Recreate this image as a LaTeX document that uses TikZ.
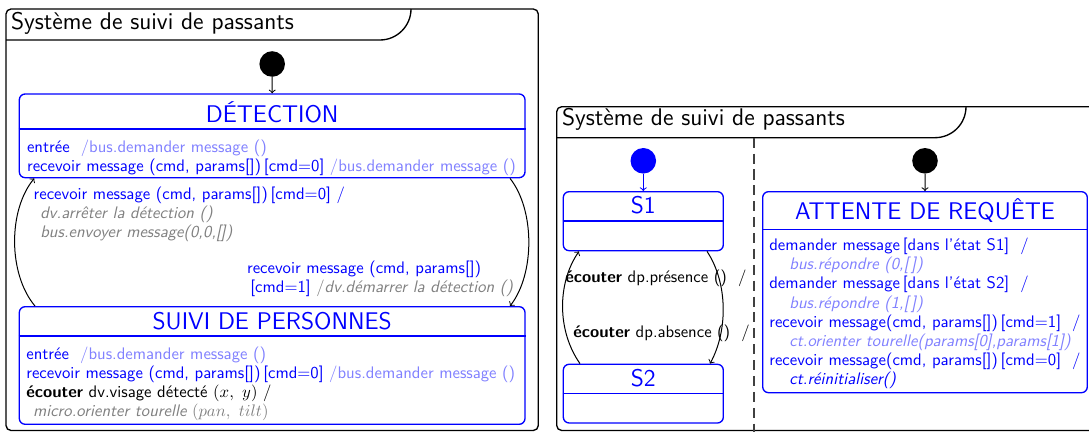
\documentclass[tikz,border=0pt]{standalone}
\usepackage{fontspec}
\usepackage{xcolor}
\usetikzlibrary{fit}

\begin{document}
\begin{tikzpicture}[x=0.598pt, y=-0.598pt]
    % styles
    \tikzset{
      sysframe/.style   = {line width=0.8pt, draw=black, rounded corners=3pt},
      tabline/.style    = {line width=0.8pt, draw=black},
      systitle/.style   = {font=\sffamily\Large, anchor=base west, inner sep=0pt},
      regionline/.style = {line width=0.8pt, draw=black!75, dash pattern=on 6pt off 3.5pt},
      statebox/.style   = {draw=blue, line width=0.8pt, rounded corners=3.5pt, inner sep=0pt},
      statesep/.style   = {draw=blue, line width=0.8pt},
      statename/.style  = {text=blue, font=\sffamily\Large, anchor=base, inner sep=0pt},
      statebody/.style  = {text=blue, font=\sffamily\fontsize{10}{11.4}\selectfont, align=left, anchor=base west, inner sep=0pt},
      startdot/.style   = {circle, fill=black, minimum size=15.3pt, inner sep=0pt},
      trans/.style      = {->, line width=0.6pt, draw=black}
    }
    \colorlet{actioncol}{blue!50}
    \colorlet{effectcol}{gray}

    \useasboundingbox (0,0) rectangle (1089,432);
    \clip (0,0) rectangle (1089,432);

    % Left system frame:
    \draw[sysframe] (6,9) rectangle (538.3,430.5);
    \draw[tabline] (6,40) -- (380,40) .. controls (397,40) and (411,26) .. (411,9);
    \node[systitle] (titleleft) at (10.7,29.3) {Système de suivi de passants};

    % Right system frame:
    \draw[sysframe] (556.7,106.7) rectangle (1094,430.5);
    \draw[tabline] (556.7,137.7) -- (935,137.7) .. controls (952,137.7) and (966,124) .. (966,106.7);
    \node[systitle] (titleright) at (561.7,125.7) {Système de suivi de passants};
    \draw[regionline] (754,137.7) -- (754,432);

    % DETECTION state (text nodes sit on their last line):
    \node[statebox, fit={(19.3,94) (525,177.7)}] (detection) {};
    \draw[statesep] (detection.west |- 0,129) -- (detection.east |- 0,129);
    \node[statename] (detectiontitle) at (272.2,122.7) {DÉTECTION};
    \node[statebody] (detectionbody) at (26.7,171.2)
      {entrée~ {\color{actioncol}/bus.demander message ()}\\
       recevoir message (cmd, params[])\,[cmd=0] {\color{actioncol}/bus.demander message ()}};

    % SUIVI DE PERSONNES state:
    \node[statebox, fit={(19.3,306.7) (525,424.3)}] (suivi) {};
    \draw[statesep] (suivi.west |- 0,336) -- (suivi.east |- 0,336);
    \node[statename] (suivititle) at (272.2,329.3) {SUIVI DE PERSONNES};
    \node[statebody] (suivibody) at (26,416.2)
      {entrée~ {\color{actioncol}/bus.demander message ()}\\
       recevoir message (cmd, params[])\,[cmd=0] {\color{actioncol}/bus.demander message ()}\\
       {\color{black}\textbf{écouter} dv.visage détecté $(x,\ y)$ /}\\
       \hspace*{4pt}{\color{effectcol}\itshape micro.orienter tourelle $(pan,\ tilt)$}};

    % S1 and S2 states:
    \node[statebox, fit={(563.3,191.7) (723.3,250.7)}] (s1) {};
    \draw[statesep] (s1.west |- 0,221) -- (s1.east |- 0,221);
    \node[statename] (s1title) at (643.3,214) {S1};
    \node[statebox, fit={(563.3,364.3) (723.3,423)}] (s2) {};
    \draw[statesep] (s2.west |- 0,393.3) -- (s2.east |- 0,393.3);
    \node[statename] (s2title) at (643.3,386.8) {S2};

    % ATTENTE DE REQUETE state:
    \node[statebox, fit={(762.7,191.7) (1087.3,392.7)}] (attente) {};
    \draw[statesep] (attente.west |- 0,229.3) -- (attente.east |- 0,229.3);
    \node[statename] (attentetitle) at (925,220) {ATTENTE DE REQUÊTE};
    \node[statebody] (attentebody) at (769,384.3)
      {demander message\,[dans l'état S1]~ /\\
       \hspace*{12pt}{\color{actioncol}\itshape bus.répondre (0,[\,])}\\
       demander message\,[dans l'état S2]~ /\\
       \hspace*{12pt}{\color{actioncol}\itshape bus.répondre (1,[\,])}\\
       recevoir message(cmd, params[])\,[cmd=1]~ /\\
       \hspace*{12pt}{\color{actioncol}\itshape ct.orienter tourelle(params[0],params[1])}\\
       recevoir message(cmd, params[])\,[cmd=0]~ /\\
       \hspace*{12pt}{\itshape ct.réinitialiser()}};

    % Initial states:
    \node[startdot] (startdet) at (272.2,64) {};
    \node[startdot, fill=blue] (starts) at (643.3,160.8) {};
    \node[startdot] (startatt) at (925,160.8) {};
    \draw[trans] (startdet) -- (detection);
    \draw[trans, draw=blue] (starts) -- (s1);
    \draw[trans] (startatt) -- (attente);

    % Transitions:
    \draw[trans] (suivi.north -| 35,0) .. controls (8,274) and (8,210) .. (detection.south -| 34.3,0);
    \draw[trans] (detection.south -| 510,0) .. controls (535,210) and (535,274) .. (suivi.north -| 510,0);
    \draw[trans] (s2.north -| 580,0) .. controls (557,331) and (557,283) .. (s1.south -| 579,0);
    \draw[trans] (s1.south -| 707,0) .. controls (728,283) and (728,331) .. (s2.north -| 710,0);

    \node[statebody] (lblstop) at (33.3,237.2)
      {recevoir message (cmd, params[])\,[cmd=0] /\\
       \hspace*{4pt}{\color{effectcol}\itshape dv.arrêter la détection ()}\\
       \hspace*{4pt}{\color{effectcol}\itshape bus.envoyer message(0,0,[])}};
    \node[statebody] (lblstart) at (246.7,292.2)
      {recevoir message (cmd, params[])\\
       \hspace*{2pt}{\color{blue}[cmd=1]} {\color{effectcol}/\itshape dv.démarrer la détection ()}};
    \node[statebody, text=black] (lblpresence) at (565,283) {\textbf{écouter} dp.présence ()~ /};
    \node[statebody, text=black] (lblabsence) at (573,338) {\textbf{écouter} dp.absence ()~ /};
\end{tikzpicture}
\end{document}
